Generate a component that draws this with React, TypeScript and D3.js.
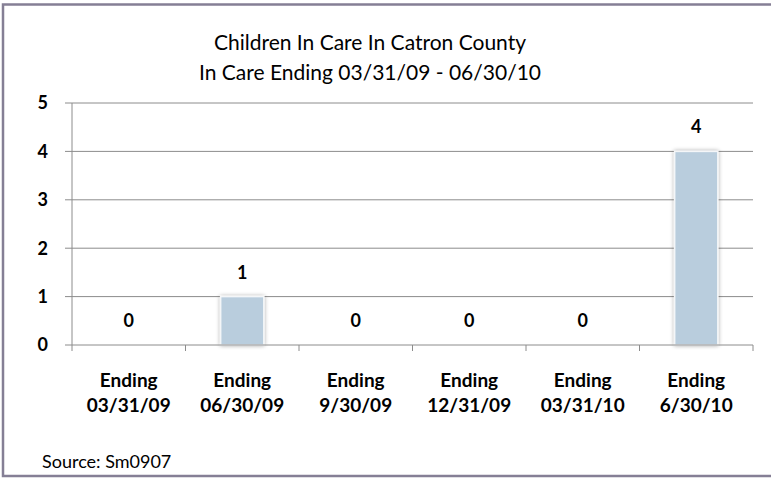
import React from "react";
import * as d3 from "d3";

const categories: string[][] = [
  ["Ending", "03/31/09"],
  ["Ending", "06/30/09"],
  ["Ending", "9/30/09"],
  ["Ending", "12/31/09"],
  ["Ending", "03/31/10"],
  ["Ending", "6/30/10"],
];
const values: number[] = [0, 1, 0, 0, 0, 4];
const yTicks: number[] = [0, 1, 2, 3, 4, 5];
const titleLines: string[] = ["Children In Care In Catron County", "In Care Ending 03/31/09 - 06/30/10"];
const sourceText = "Source: Sm0907";

const W = 771;
const H = 478;
const FONT = "Lato, 'Open Sans', sans-serif";

export default function App() {
  const left = 72, right = 753, top = 103, bottom = 345;

  const x = d3.scaleBand<number>()
    .domain(d3.range(values.length))
    .range([left, right])
    .paddingInner(0)
    .paddingOuter(0);
  const y = d3.scaleLinear().domain([0, 5]).range([bottom, top]);

  const barW = x.bandwidth() * 0.38;
  const grid = "#8c8c8c";

  return (
    <div style={{ position: "fixed", left: 0, top: 0 }}>
      <svg width={W} height={H} style={{ display: "block", background: "#fff" }}>
        <defs>
          <filter id="shadow" x="-30%" y="-30%" width="160%" height="160%">
            <feGaussianBlur in="SourceAlpha" stdDeviation="2" />
            <feComponentTransfer><feFuncA type="linear" slope="0.35" /></feComponentTransfer>
            <feMerge>
              <feMergeNode />
              <feMergeNode in="SourceGraphic" />
            </feMerge>
          </filter>
        </defs>

        {/* chart frame */}
        <rect x={3} y={4.5} width={W + 10} height={471.5} fill="none" stroke="#857f95" strokeWidth={2.5} />

        {/* title */}
        {titleLines.map((t, i) => (
          <text key={i} x={370} y={50 + i * 30} textAnchor="middle"
            fontFamily={FONT} fontSize={21} fill="#000">{t}</text>
        ))}

        {/* gridlines */}
        {yTicks.filter(v => v > 0).map(v => (
          <line key={v} x1={left} x2={right} y1={y(v)} y2={y(v)} stroke={grid} strokeWidth={1} />
        ))}

        {/* y axis */}
        <line x1={left} x2={left} y1={top} y2={bottom} stroke={grid} />
        {yTicks.map(v => (
          <g key={v}>
            <line x1={left - 7} x2={left} y1={y(v)} y2={y(v)} stroke={grid} />
            <text x={48} y={y(v)} dy="0.36em" textAnchor="end"
              fontFamily={FONT} fontWeight="bold" fontSize={18} fill="#000">{v}</text>
          </g>
        ))}

        {/* bars */}
        {values.map((v, i) => {
          if (v <= 0) return null;
          const cx = x(i)! + x.bandwidth() / 2;
          return (
            <rect key={i} x={cx - barW / 2} y={y(v)} width={barW} height={y(0) - y(v)}
              fill="#b9cddd" stroke="#f4f6f8" strokeWidth={1.5} filter="url(#shadow)" />
          );
        })}

        {/* x axis */}
        <line x1={left} x2={right} y1={bottom} y2={bottom} stroke={grid} />
        {d3.range(values.length + 1).map(i => {
          const xx = i < values.length ? x(i)! : right;
          return <line key={i} x1={xx} x2={xx} y1={bottom} y2={bottom + 6} stroke={grid} />;
        })}

        {/* value labels */}
        {values.map((v, i) => (
          <text key={i} x={x(i)! + x.bandwidth() / 2} y={y(v) - 18} textAnchor="middle"
            fontFamily={FONT} fontWeight="bold" fontSize={18} fill="#000">{v}</text>
        ))}

        {/* category labels */}
        {categories.map((c, i) => (
          <text key={i} x={x(i)! + x.bandwidth() / 2} textAnchor="middle"
            fontFamily={FONT} fontWeight="bold" fontSize={19} fill="#000">
            {c.map((s, j) => (
              <tspan key={j} x={x(i)! + x.bandwidth() / 2} y={387 + j * 25}>{s}</tspan>
            ))}
          </text>
        ))}

        {/* source */}
        <text x={42} y={468} fontFamily={FONT} fontSize={18} fill="#000">{sourceText}</text>
      </svg>
    </div>
  );
}
